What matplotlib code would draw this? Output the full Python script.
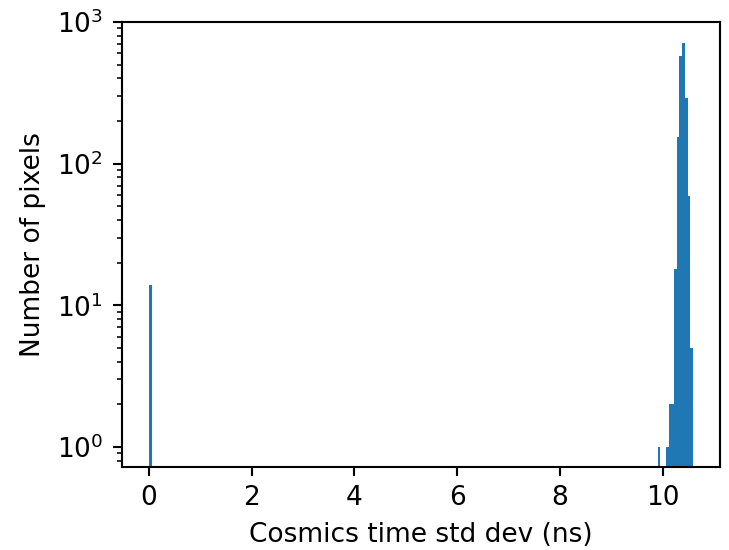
import numpy as np
import matplotlib
matplotlib.use("Agg")
import matplotlib.pyplot as plt

# Histogram of cosmics time std dev per pixel (200 bins from 0 to ~10.59 ns)
x_min = 0.0
x_max = 10.59
n_bins = 200
bin_index = [0, 187, 190, 191, 192, 193, 194, 195, 196, 197, 198, 199]
bin_count = [14, 1, 1, 2, 2, 18, 154, 574, 710, 290, 59, 5]

edges = np.linspace(x_min, x_max, n_bins + 1)
centers = 0.5 * (edges[:-1] + edges[1:])
counts = np.zeros(n_bins)
for i, c in zip(bin_index, bin_count):
    counts[i] = c

dpi = 190
fig = plt.figure(figsize=(729 / dpi, 550 / dpi), dpi=dpi)
ax = fig.add_axes([0.167, 0.151, 0.821, 0.809])
ax.hist(centers, bins=edges, weights=counts, log=True, color="#1f77b4")
ax.set_ylim(0.723, 1000)
ax.set_xlabel("Cosmics time std dev (ns)")
ax.set_ylabel("Number of pixels")
fig.savefig("out.png", dpi=dpi)
